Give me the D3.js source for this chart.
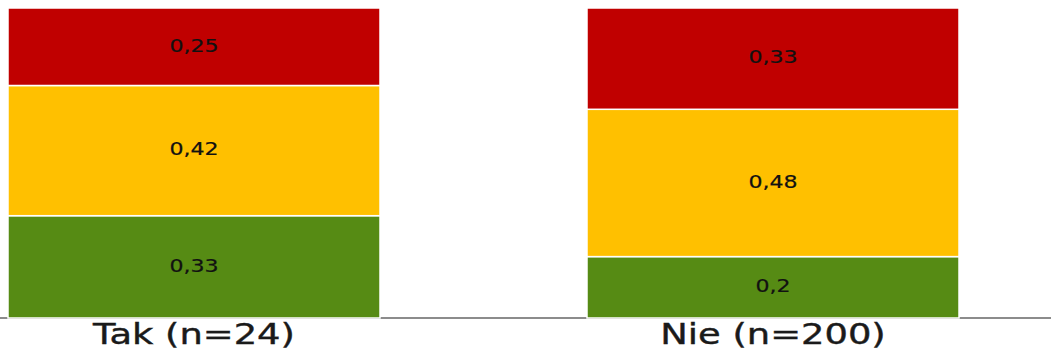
<!DOCTYPE html>
<html><head><meta charset="utf-8">
<script src="https://cdn.jsdelivr.net/npm/d3@7"></script>
<style>html,body{margin:0;padding:0;background:#fff;overflow:hidden}</style>
</head><body>
<svg id="c" width="1051" height="351"></svg>
<script>
const categories = ["Tak (n=24)", "Nie (n=200)"];
const seriesNames = ["green", "yellow", "red"];
const greenVals = [0.33, 0.2];
const yellowVals = [0.42, 0.48];
const redVals = [0.25, 0.33];
const colors = ["#568B14", "#FFC000", "#C00000"];
const fmt = v => String(v).replace(".", ",");

const svg = d3.select("#c");
const plotTop = 8, plotBottom = 318;
const rows = categories.map((c, i) => ({cat: c, green: greenVals[i], yellow: yellowVals[i], red: redVals[i]}));
const stack = d3.stack().keys(seriesNames).offset(d3.stackOffsetExpand);
const layers = stack(rows);

const x = d3.scaleBand().domain(categories).range([-95.5, 1062.5]).paddingInner(0.3575).paddingOuter(0.3575/2);
const y = d3.scaleLinear().domain([0, 1]).range([plotBottom, plotTop]);

// axis line
svg.append("line").attr("x1", 0).attr("x2", 1051).attr("y1", 318).attr("y2", 318)
  .attr("stroke", "#8c8c8c").attr("stroke-width", 2);

layers.forEach((layer, li) => {
  const g = svg.append("g");
  g.selectAll("rect").data(layer).join("rect")
    .attr("x", d => x(d.data.cat))
    .attr("width", x.bandwidth())
    .attr("y", d => y(d[1]))
    .attr("height", d => y(d[0]) - y(d[1]))
    .attr("fill", colors[li])
    .attr("stroke", "#fff").attr("stroke-width", 1.5);
  g.selectAll("text").data(layer).join("text")
    .attr("transform", d => `translate(${x(d.data.cat) + x.bandwidth()/2},${(y(d[0]) + y(d[1]))/2}) scale(1.3,1)`)
    .attr("text-anchor", "middle").attr("dy", "0.28em")
    .attr("font-family", "DejaVu Sans").attr("font-size", 17)
    .attr("fill", "#111").attr("stroke", "#111").attr("stroke-width", 0.2)
    .text(d => fmt(d.data[seriesNames[li]]));
});

const xAxis = d3.axisBottom(x).tickSize(0).tickPadding(0);
const ag = svg.append("g").attr("transform", "translate(0,318)").call(xAxis);
ag.select(".domain").remove();
ag.selectAll(".tick text")
  .attr("y", 0).attr("dy", 0)
  .attr("transform", "translate(0,25.5) scale(1.34,1)")
  .attr("font-family", "DejaVu Sans").attr("font-size", 27.5)
  .attr("fill", "#1a1a1a").attr("stroke", "#1a1a1a").attr("stroke-width", 0.4);
</script>
</body></html>
